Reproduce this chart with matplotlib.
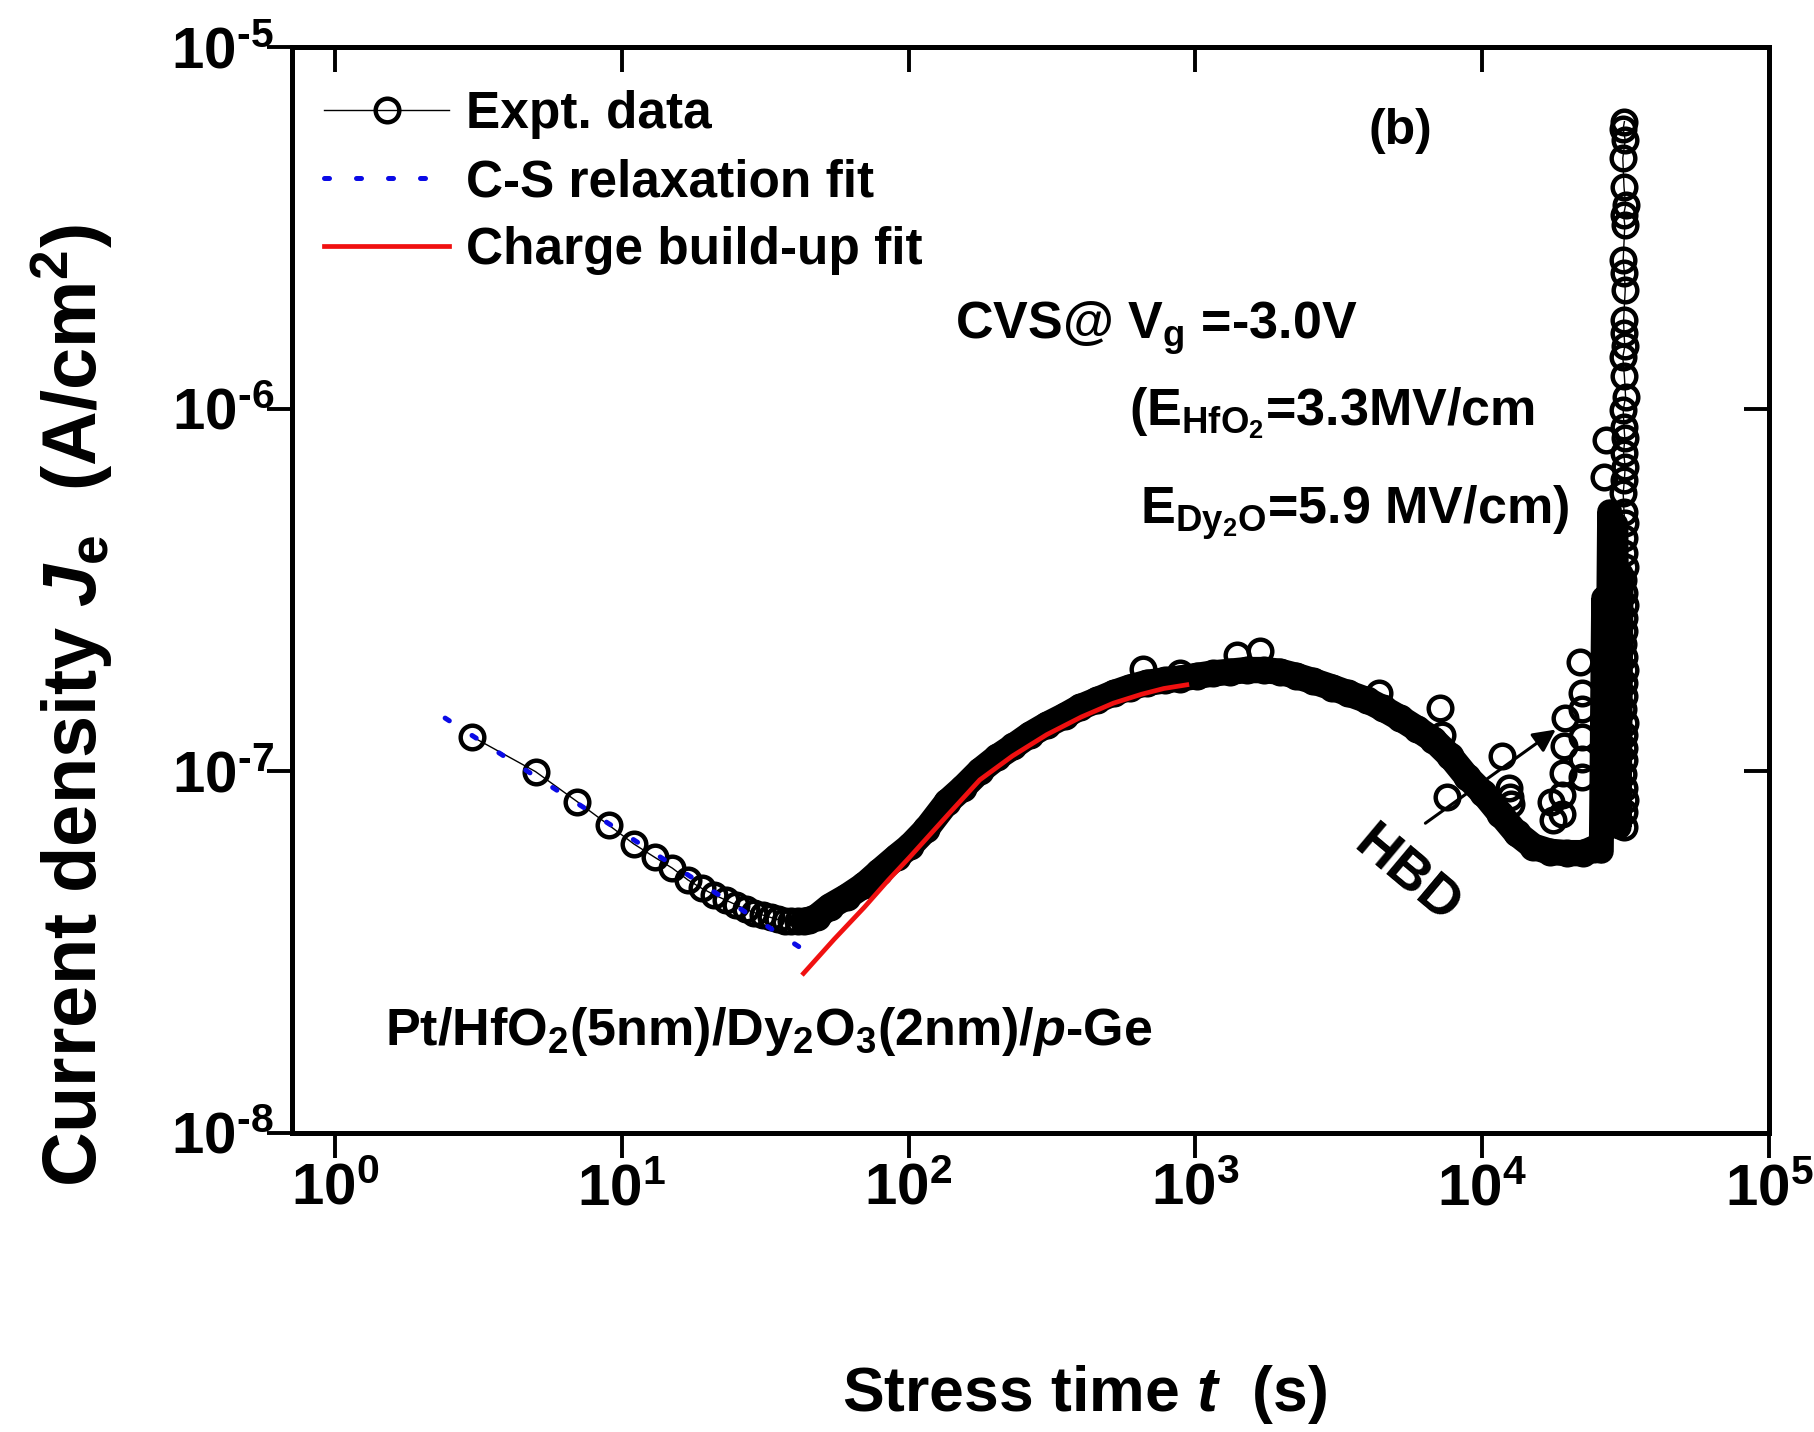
import matplotlib
matplotlib.use("Agg")
import matplotlib.pyplot as plt
from matplotlib.ticker import FixedLocator, FixedFormatter, NullLocator

plt.rcParams['font.family'] = 'Liberation Sans'
plt.rcParams['font.weight'] = 'bold'
plt.rcParams['mathtext.fontset'] = 'custom'
plt.rcParams['mathtext.rm'] = 'Liberation Sans:bold'
plt.rcParams['mathtext.bf'] = 'Liberation Sans:bold'
plt.rcParams['mathtext.it'] = 'Liberation Sans:bold:italic'
plt.rcParams['mathtext.default'] = 'rm'

# expt. data, sparse start (t in s, J in A/cm^2)
t_early = [3, 5, 7, 9, 11, 13, 15, 17, 19, 21, 23, 25, 27, 29, 31, 33, 35, 37, 39, 41]
j_early = [1.245e-7, 9.96e-8, 8.22e-8, 7.09e-8, 6.29e-8, 5.78e-8, 5.39e-8, 5.00e-8, 4.74e-8, 4.55e-8,
           4.40e-8, 4.27e-8, 4.15e-8, 4.06e-8, 4.00e-8, 3.94e-8, 3.89e-8, 3.86e-8, 3.84e-8, 3.84e-8]

# expt. data, dense part (markers overlap into a band)
t_band = [43, 45, 48, 53, 61, 70, 79, 91, 101, 115, 136, 155, 177, 203, 232, 265, 303, 350, 396, 455,
          518, 590, 676, 780, 884, 1010, 1154, 1320, 1509, 1730, 1972, 2250, 2576, 3000, 3400, 3956,
          4500, 5166, 5900, 6754, 7720, 8827, 10090, 11530, 13190, 15080, 17230, 19710, 22520, 24500]
j_band = [3.85e-8, 3.87e-8, 3.96e-8, 4.22e-8, 4.50e-8, 4.84e-8, 5.27e-8, 5.80e-8, 6.20e-8, 6.90e-8,
          8.20e-8, 9.00e-8, 1.00e-7, 1.09e-7, 1.17e-7, 1.26e-7, 1.34e-7, 1.42e-7, 1.50e-7, 1.57e-7,
          1.64e-7, 1.70e-7, 1.75e-7, 1.78e-7, 1.80e-7, 1.83e-7, 1.86e-7, 1.88e-7, 1.90e-7, 1.90e-7,
          1.88e-7, 1.83e-7, 1.77e-7, 1.70e-7, 1.64e-7, 1.57e-7, 1.49e-7, 1.40e-7, 1.31e-7, 1.22e-7,
          1.10e-7, 9.65e-8, 8.68e-8, 7.63e-8, 6.72e-8, 6.18e-8, 5.98e-8, 5.93e-8, 5.93e-8, 6.10e-8]

# scattered points off the band
t_out = [654, 884, 1397, 1680, 4366, 7122, 7221, 7540, 11700, 12400, 12500, 12600, 17400, 17600,
         18900, 19000, 19100, 19300, 19500, 21900, 22200, 22200, 22200, 22200, 22200, 26600, 27000]
j_out = [1.91e-7, 1.86e-7, 2.09e-7, 2.14e-7, 1.64e-7, 1.49e-7, 1.26e-7, 8.5e-8, 1.10e-7, 9.0e-8,
         8.5e-8, 8.1e-8, 8.2e-8, 7.3e-8, 7.6e-8, 8.6e-8, 9.9e-8, 1.17e-7, 1.40e-7, 2.0e-7,
         1.64e-7, 1.48e-7, 1.24e-7, 1.08e-7, 9.65e-8, 6.5e-7, 8.2e-7]

# noisy burst before breakdown
t_burst = [26000, 26500, 27200, 27800, 28500, 29200, 30000, 30500]
j_burst = [6.0e-8, 3.0e-7, 7.0e-8, 5.2e-7, 8.0e-8, 4.8e-7, 7.0e-8, 3.5e-7]

# hard breakdown spike
t_spike = [31300, 31000, 31500, 30900, 31200, 31600, 31100, 31400, 31000, 31300,
           31500, 31100, 31200, 31400, 30900, 31300, 31600, 31000, 31200, 31400,
           31100, 31500, 31300, 31000, 31200, 31400, 31100, 31300, 31500, 31000,
           31200, 31400, 31100, 31300, 31000, 31200, 31500, 31100, 31300, 31000,
           31400, 31200, 31100, 31300, 31000, 31200, 31400, 31100, 31300]
j_spike = [6.22e-6, 5.95e-6, 5.53e-6, 4.93e-6, 4.11e-6, 3.66e-6, 3.44e-6, 3.22e-6, 2.58e-6, 2.37e-6,
           2.13e-6, 1.76e-6, 1.62e-6, 1.49e-6, 1.39e-6, 1.23e-6, 1.08e-6, 9.93e-7, 8.93e-7, 8.30e-7,
           7.55e-7, 6.93e-7, 6.37e-7, 5.85e-7, 5.20e-7, 4.83e-7, 4.40e-7, 3.99e-7, 3.66e-7, 3.37e-7,
           3.10e-7, 2.88e-7, 2.65e-7, 2.44e-7, 2.24e-7, 2.07e-7, 1.90e-7, 1.75e-7, 1.61e-7, 1.48e-7,
           1.36e-7, 1.26e-7, 1.16e-7, 1.07e-7, 9.8e-8, 9.0e-8, 8.3e-8, 7.7e-8, 7.0e-8]

# fits
t_cs = [2.42, 5, 10, 20, 43.5]
j_cs = [1.40e-7, 9.66e-8, 6.78e-8, 4.75e-8, 3.19e-8]
t_red = [43, 55, 70, 85, 101, 136, 177, 230, 303, 400, 518, 650, 776, 933]
j_red = [2.76e-8, 3.43e-8, 4.2e-8, 5.0e-8, 5.79e-8, 7.52e-8, 9.45e-8, 1.10e-7, 1.26e-7, 1.41e-7,
         1.54e-7, 1.63e-7, 1.69e-7, 1.73e-7]

x_ticks = [1e0, 1e1, 1e2, 1e3, 1e4, 1e5]
x_labels = ['$\\mathbf{10^{%d}}$' % i for i in range(0, 6)]
y_ticks = [1e-8, 1e-7, 1e-6, 1e-5]
y_labels = ['$\\mathbf{10^{\u2010%d}}$' % i for i in (8, 7, 6, 5)]

fig = plt.figure(figsize=(18.15, 14.32), dpi=100)
ax = fig.add_axes([0.1609, 0.2088, 0.8138, 0.7584])

mk = dict(marker='o', ms=17, mew=3.2, mfc='none', mec='black')

expt, = ax.plot(t_early, j_early, color='black', lw=1, zorder=3, **mk)
ax.plot(t_band, j_band, color='black', lw=19, solid_joinstyle='round',
        solid_capstyle='round', zorder=3)
ax.plot(t_band, j_band, ls='none', zorder=3, **mk)
ax.plot(t_burst, j_burst, color='black', lw=18, solid_joinstyle='round',
        solid_capstyle='round', zorder=3)
ax.plot(t_out, j_out, ls='none', zorder=3, **mk)
ax.plot(t_spike, j_spike, color='black', lw=1, zorder=3, **mk)

cs, = ax.plot(t_cs, j_cs, color='#0a0ae6', lw=3.6, ls=(0, (1.0, 5.4)),
              dash_capstyle='round', zorder=4)
red, = ax.plot(t_red, j_red, color='#f01010', lw=3.4, zorder=5)

ax.set_xscale('log')
ax.set_yscale('log')
ax.set_xlim(0.708, 1e5)
ax.set_ylim(1e-8, 1e-5)

ax.xaxis.set_major_locator(FixedLocator(x_ticks))
ax.xaxis.set_major_formatter(FixedFormatter(x_labels))
ax.yaxis.set_major_locator(FixedLocator(y_ticks))
ax.yaxis.set_major_formatter(FixedFormatter(y_labels))
ax.xaxis.set_minor_locator(NullLocator())
ax.yaxis.set_minor_locator(NullLocator())
ax.tick_params(direction='out', length=18, width=2.8, labelsize=42,
               top=False, right=False)
ax.tick_params(axis='x', pad=3)
ax.tick_params(axis='y', pad=-5)

# inward ticks on top and right
axt = ax.twiny()
axt.set_xscale('log')
axt.set_xlim(ax.get_xlim())
axt.xaxis.set_major_locator(FixedLocator(x_ticks))
axt.xaxis.set_minor_locator(NullLocator())
axt.tick_params(direction='in', length=18, width=2.8, labeltop=False)
axr = ax.twinx()
axr.set_yscale('log')
axr.set_ylim(ax.get_ylim())
axr.yaxis.set_major_locator(FixedLocator(y_ticks))
axr.yaxis.set_minor_locator(NullLocator())
axr.tick_params(direction='in', length=18, width=2.8, labelright=False)
for a in (ax, axt, axr):
    for s in a.spines.values():
        s.set_linewidth(3.5)

ax.legend([expt, cs, red], ['Expt. data', 'C-S relaxation fit', 'Charge build-up fit'],
          loc='upper left', bbox_to_anchor=(0.0217, 0.96), frameon=False,
          fontsize=37, handlelength=2.44, handletextpad=0.33, labelspacing=0.37,
          borderpad=0, borderaxespad=0, numpoints=1)

fs = 37.5
fig.text(1369 / 1815, 1 - 144 / 1432, '(b)', fontsize=36, va='baseline')
fig.text(955 / 1815, 1 - 339 / 1432, r'CVS@ V$_{\mathrm{g}}$ =-3.0V', fontsize=fs, va='baseline')
fig.text(1129 / 1815, 1 - 425 / 1432, r'(E$_{\mathrm{HfO_2}}$=3.3MV/cm', fontsize=fs, va='baseline')
fig.text(1140 / 1815, 1 - 524 / 1432, r'E$_{\mathrm{Dy_2O}}$=5.9 MV/cm)', fontsize=fs, va='baseline')
fig.text(385 / 1815, 1 - 1045 / 1432, r'Pt/HfO$_2$(5nm)/Dy$_2$O$_3$(2nm)/$\mathit{p}$-Ge',
         fontsize=fs, va='baseline')
fig.text(1406 / 1815, 1 - 876 / 1432, 'HBD', fontsize=40, rotation=-40,
         ha='center', va='center')
fig.text(72 / 1815, 1 - 706 / 1432, r'Current density $\mathit{J}_{\mathrm{e}}$  (A/cm$^{2}$)',
         fontsize=54.5, rotation=90, ha='center', va='center')
fig.text(1085 / 1815, 1 - 1395 / 1432, r'Stress time $\mathit{t}$  (s)', fontsize=45,
         ha='center', va='center')

ax.annotate('', xy=(18370, 1.315e-7), xytext=(6220, 7.1e-8),
            arrowprops=dict(arrowstyle='-|>', color='black', lw=2.2, mutation_scale=34),
            zorder=1)

fig.savefig('out.png', dpi=100)
